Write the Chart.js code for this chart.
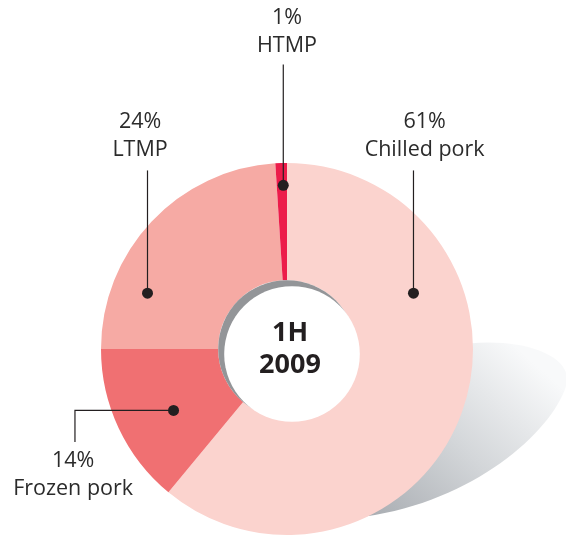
<!DOCTYPE html>
<html>
<head>
<meta charset="utf-8">
<script src="https://cdn.jsdelivr.net/npm/chart.js@4/dist/chart.umd.min.js"></script>
<style>
  html, body { margin: 0; padding: 0; background: #fff; }
  #wrap { width: 566px; height: 542px; position: relative; }
</style>
</head>
<body>
<div id="wrap"><canvas id="pork" width="566" height="542"></canvas></div>
<script>
"use strict";

const categories = ["Chilled pork", "Frozen pork", "LTMP", "HTMP"];
const shares = [61, 14, 24, 1];
const percentLabels = ["61%", "14%", "24%", "1%"];
const sliceColors = ["#fbd3ce", "#f07072", "#f6aaa4", "#ec1c4a"];
const centerLines = ["1H", "2009"];

// where each callout sits, relative to the doughnut center (in units of radius)
const callouts = [
  { dot: [0.68, -0.30], path: [[0.68, -0.96]], text: [0.74, -1.22] },
  { dot: [-0.61, 0.33], path: [[-1.14, 0.33], [-1.14, 0.50]], text: [-1.15, 0.60] },
  { dot: [-0.75, -0.30], path: [[-0.75, -0.96]], text: [-0.79, -1.22] },
  { dot: [-0.02, -0.88], path: [[-0.02, -1.53]], text: [0.0, -1.78] }
];

const decor = {
  id: "decor",
  beforeDatasetsDraw(chart) {
    const arc = chart.getDatasetMeta(0).data[0];
    const cx = arc.x, cy = arc.y, r = arc.outerRadius;
    const ctx = chart.ctx;
    ctx.save();
    const g = ctx.createLinearGradient(cx + 0.5 * r, cy + 0.95 * r, cx + 1.3 * r, cy + 0.05 * r);
    g.addColorStop(0, "#a9adb2");
    g.addColorStop(0.5, "#d3d6d9");
    g.addColorStop(1, "#f8f9fa");
    ctx.fillStyle = g;
    ctx.beginPath();
    ctx.moveTo(cx + 0.98 * r, cy - 0.03 * r);
    ctx.bezierCurveTo(cx + 1.3 * r, cy - 0.06 * r, cx + 1.55 * r, cy + 0.05 * r, cx + 1.5 * r, cy + 0.2 * r);
    ctx.bezierCurveTo(cx + 1.42 * r, cy + 0.45 * r, cx + 1.0 * r, cy + 0.82 * r, cx + 0.42 * r, cy + 0.9 * r);
    ctx.lineTo(cx, cy);
    ctx.closePath();
    ctx.fill();
    ctx.restore();
  },
  afterDatasetsDraw(chart) {
    const arc = chart.getDatasetMeta(0).data[0];
    const cx = arc.x, cy = arc.y, r = arc.outerRadius, hole = arc.innerRadius;
    const ctx = chart.ctx;
    ctx.save();
    // hole with its shadow
    ctx.fillStyle = "#939598";
    ctx.beginPath();
    ctx.arc(cx, cy, hole, 0, Math.PI * 2);
    ctx.fill();
    ctx.fillStyle = "#ffffff";
    ctx.beginPath();
    ctx.arc(cx + 5, cy + 5, hole - 1, 0, Math.PI * 2);
    ctx.fill();

    ctx.fillStyle = "#231f20";
    ctx.font = "bold 27px 'Open Sans'";
    ctx.textAlign = "center";
    ctx.textBaseline = "middle";
    ctx.fillText(centerLines[0], cx + 3, cy - 16);
    ctx.fillText(centerLines[1], cx + 3, cy + 16);

    // callouts
    ctx.strokeStyle = "#231f20";
    ctx.lineWidth = 1.2;
    callouts.forEach((c, i) => {
      const dx = cx + c.dot[0] * r, dy = cy + c.dot[1] * r;
      ctx.beginPath();
      ctx.moveTo(dx, dy);
      c.path.forEach(p => ctx.lineTo(cx + p[0] * r, cy + p[1] * r));
      ctx.stroke();
      ctx.fillStyle = "#231f20";
      ctx.beginPath();
      ctx.arc(dx, dy, 5.5, 0, Math.PI * 2);
      ctx.fill();

      ctx.font = "21.5px 'Open Sans'";
      ctx.fillStyle = "#2b2b2b";
      const tx = cx + c.text[0] * r, ty = cy + c.text[1] * r;
      ctx.fillText(percentLabels[i], tx, ty);
      ctx.fillText(categories[i], tx, ty + 28);
    });
    ctx.restore();
  }
};

const ctx = document.getElementById("pork").getContext("2d");

new Chart(ctx, {
  type: "doughnut",
  data: {
    labels: categories,
    datasets: [
      {
        data: shares,
        backgroundColor: sliceColors,
        borderWidth: 0
      }
    ]
  },
  options: {
    responsive: false,
    animation: false,
    cutout: "37%",
    layout: {
      padding: { left: 101, right: 93, top: 163, bottom: 7 }
    },
    plugins: {
      legend: { display: false },
      tooltip: { enabled: false }
    }
  },
  plugins: [decor]
});
</script>
</body>
</html>
